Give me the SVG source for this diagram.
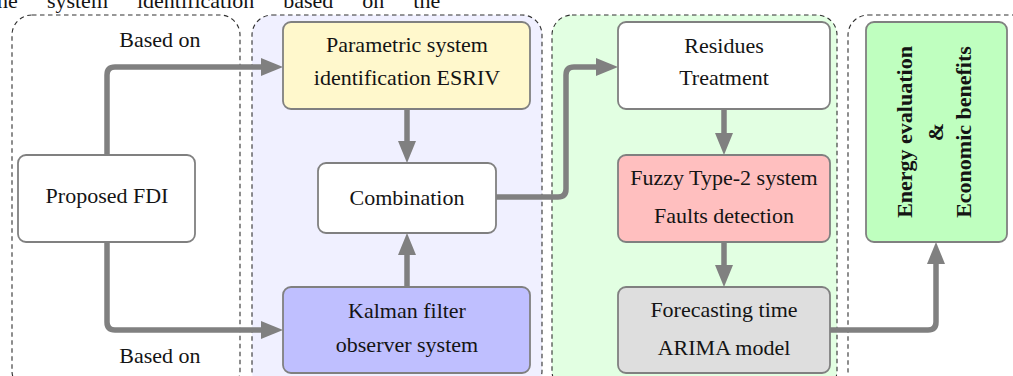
<svg xmlns="http://www.w3.org/2000/svg" width="1013" height="376" viewBox="0 0 1013 376">
  <defs>
    <style>
      .txt { font-family: "Liberation Serif", "Times New Roman", serif; font-size: 22px; fill: #141414; text-anchor: middle; }
      .bold { font-weight: bold; }
      .stage { stroke: #303030; stroke-width: 1.1; stroke-dasharray: 4.5 3.5; }
      .node { stroke: #808080; stroke-width: 1.8; }
      .link { fill: none; stroke: #808080; stroke-width: 5.5; stroke-linejoin: round; }
    </style>
    <marker id="head" markerUnits="userSpaceOnUse" markerWidth="24" markerHeight="20" refX="0" refY="10" orient="auto" viewBox="0 0 24 20">
      <path d="M0,1 L22,10 L0,19 z" fill="#808080"/>
    </marker>
  </defs>

  <rect width="1013" height="376" fill="#ffffff"/>

  <!-- running text line above the figure -->
  <text class="txt" x="-9" y="8" style="text-anchor:start" word-spacing="23.5">the system identification based on the</text>

  <!-- stage frames -->
  <g id="stage-fdi">
    <rect class="stage" x="12" y="15" width="228" height="376" rx="20" fill="none"/>
  </g>
  <g id="stage-observers">
    <rect class="stage" x="252" y="15" width="290" height="376" rx="20" fill="#f0f0ff"/>
  </g>
  <g id="stage-detection">
    <rect class="stage" x="552" y="15" width="285" height="376" rx="20" fill="#e2ffe2"/>
  </g>
  <g id="stage-evaluation">
    <rect class="stage" x="848" y="15" width="190" height="376" rx="20" fill="none"/>
  </g>

  <!-- connectors -->
  <g id="connectors">
    <path class="link" d="M107,155 V75 Q107,67 115,67 H261" marker-end="url(#head)"/>
    <path class="link" d="M107,242 V322 Q107,330 115,330 H261" marker-end="url(#head)"/>
    <path class="link" d="M407,109 V141" marker-end="url(#head)"/>
    <path class="link" d="M407,287 V255" marker-end="url(#head)"/>
    <path class="link" d="M496,197 H558 Q566,197 566,189 V75 Q566,67 574,67 H596" marker-end="url(#head)"/>
    <path class="link" d="M724,109 V133" marker-end="url(#head)"/>
    <path class="link" d="M724,242 V265" marker-end="url(#head)"/>
    <path class="link" d="M830,330 H928 Q936,330 936,322 V264" marker-end="url(#head)"/>
    <text class="txt" x="160" y="47">Based on</text>
    <text class="txt" x="160" y="363">Based on</text>
  </g>

  <!-- nodes -->
  <g id="node-fdi">
    <rect class="node" x="18" y="155" width="177" height="87" rx="8" fill="#ffffff"/>
    <text class="txt" x="107" y="203">Proposed FDI</text>
  </g>
  <g id="node-esriv">
    <rect class="node" x="283" y="22" width="247" height="87" rx="8" fill="#fff8cc"/>
    <text class="txt" x="407" y="52">Parametric system</text>
    <text class="txt" x="407" y="85">identification ESRIV</text>
  </g>
  <g id="node-combination">
    <rect class="node" x="318" y="163" width="178" height="70" rx="8" fill="#ffffff"/>
    <text class="txt" x="407" y="205">Combination</text>
  </g>
  <g id="node-kalman">
    <rect class="node" x="283" y="287" width="247" height="86" rx="8" fill="#bfbfff"/>
    <text class="txt" x="407" y="318">Kalman filter</text>
    <text class="txt" x="407" y="352">observer system</text>
  </g>
  <g id="node-residues">
    <rect class="node" x="618" y="22" width="212" height="87" rx="8" fill="#ffffff"/>
    <text class="txt" x="724" y="53">Residues</text>
    <text class="txt" x="724" y="85">Treatment</text>
  </g>
  <g id="node-fuzzy">
    <rect class="node" x="618" y="155" width="212" height="87" rx="8" fill="#ffbfbf"/>
    <text class="txt" x="724" y="185">Fuzzy Type-2 system</text>
    <text class="txt" x="724" y="223">Faults detection</text>
  </g>
  <g id="node-arima">
    <rect class="node" x="618" y="287" width="212" height="86" rx="8" fill="#dedede"/>
    <text class="txt" x="724" y="317">Forecasting time</text>
    <text class="txt" x="724" y="355">ARIMA model</text>
  </g>
  <g id="node-energy">
    <rect class="node" x="866" y="22" width="141" height="220" rx="8" fill="#bfffbf"/>
    <text class="txt bold" transform="translate(912,132) rotate(-90)">Energy evaluation</text>
    <text class="txt bold" transform="translate(943,132) rotate(-90)">&amp;</text>
    <text class="txt bold" transform="translate(971,132) rotate(-90)">Economic benefits</text>
  </g>
</svg>
